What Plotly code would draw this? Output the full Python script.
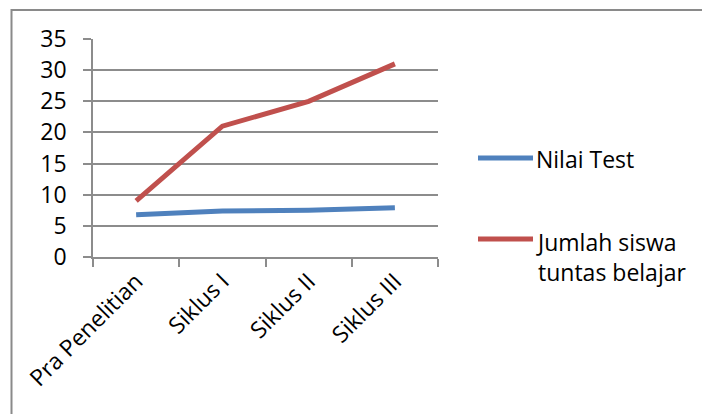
import plotly.graph_objects as go

categories = ["Pra Penelitian", "Siklus I", "Siklus II", "Siklus III"]
nilai_test = [6.8, 7.4, 7.5, 7.9]
jumlah_tuntas = [9, 21, 25, 31]
series_names = ["Nilai Test", "Jumlah siswa<br>tuntas belajar"]
series_colors = ["#4F81BD", "#C0504D"]
y_ticks = [0, 5, 10, 15, 20, 25, 30, 35]

FONT = "Open Sans"
GRID = "#8c8c8c"

fig = go.Figure()
for name, vals, col in zip(series_names, [nilai_test, jumlah_tuntas], series_colors):
    fig.add_trace(go.Scatter(
        x=categories, y=vals, mode="lines", name=name,
        line=dict(color=col, width=5), showlegend=False,
    ))

# plot area geometry in pixels (used for the legend and frame placement)
W, H = 702, 414
L, R, T, B = 93, 264, 39, 157
pw, ph = W - L - R, H - T - B

def px_x(p):
    return (p - L) / pw

def px_y(p):
    return (H - B - p) / ph

shapes = [
    # outer chart frame
    dict(type="rect", xref="paper", yref="paper",
         x0=px_x(11.5), x1=px_x(720), y0=px_y(10), y1=px_y(430),
         line=dict(color="#8a8a8a", width=2), fillcolor="rgba(0,0,0,0)", layer="below"),
]
annotations = []
legend_rows = [(158, 159, "middle"), (239, 224, "top")]
for (ly, ty, anchor), name, col in zip(legend_rows, series_names, series_colors):
    shapes.append(dict(type="line", xref="paper", yref="paper",
                       x0=px_x(478), x1=px_x(533), y0=px_y(ly), y1=px_y(ly),
                       line=dict(color=col, width=5)))
    annotations.append(dict(xref="paper", yref="paper", x=px_x(534), y=px_y(ty),
                            xanchor="left", yanchor=anchor, align="left",
                            text=name, showarrow=False,
                            font=dict(family=FONT, size=23, color="#000")))

fig.update_layout(
    width=W, height=H,
    margin=dict(l=L, r=R, t=T, b=B),
    paper_bgcolor="white", plot_bgcolor="white",
    font=dict(family=FONT, size=22, color="#000"),
    shapes=shapes, annotations=annotations,
    xaxis=dict(
        type="category", range=[-0.5, 3.5], tickson="boundaries",
        ticks="outside", ticklen=8,
        tickcolor=GRID, tickwidth=1.5, showline=True, linecolor=GRID, linewidth=1.5,
        showgrid=False, tickangle=-45, zeroline=False,
        tickfont=dict(family=FONT, size=23),
    ),
    yaxis=dict(
        range=[0, 35], tickvals=y_ticks, ticks="outside", ticklen=8,
        tickcolor=GRID, tickwidth=1.5, showline=True, linecolor=GRID, linewidth=1.5,
        showgrid=True, gridcolor=GRID, gridwidth=1.5, zeroline=False,
        ticklabelstandoff=12,
        tickfont=dict(family=FONT, size=23),
    ),
)

fig.write_html("out.html")
